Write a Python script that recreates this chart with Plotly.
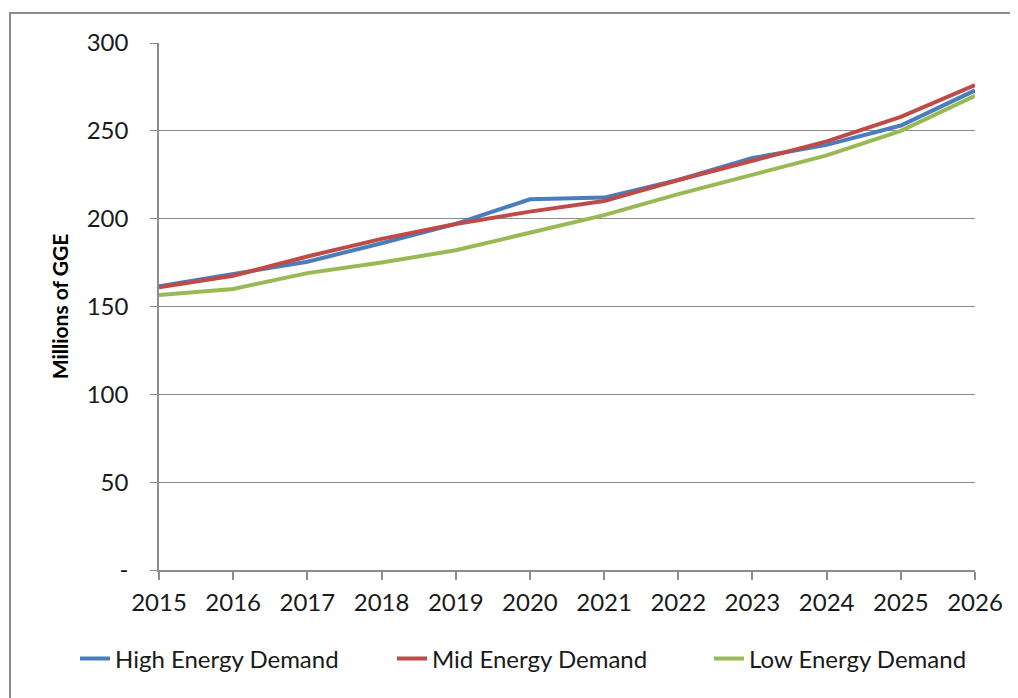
import plotly.graph_objects as go

years = [2015, 2016, 2017, 2018, 2019, 2020, 2021, 2022, 2023, 2024, 2025, 2026]
high_demand = [161.5, 168.5, 175.5, 186, 197, 211, 212, 222, 234.5, 242, 253, 273]
mid_demand = [161, 167.5, 178.5, 188.5, 197, 204, 210, 222, 233, 244, 258, 276]
low_demand = [156.5, 160, 169, 175, 182, 192, 202, 214, 225, 236, 250, 270]

y_ticks = [0, 50, 100, 150, 200, 250, 300]
y_tick_labels = ["-", "50", "100", "150", "200", "250", "300"]

font_name = "Lato, Open Sans, sans-serif"
line_w = 4

fig = go.Figure()
fig.add_trace(go.Scatter(x=years, y=high_demand, name="High Energy Demand", mode="lines",
                         line=dict(color="#4a7ebb", width=line_w)))
fig.add_trace(go.Scatter(x=years, y=mid_demand, name="Mid Energy Demand", mode="lines",
                         line=dict(color="#be4b48", width=line_w)))
fig.add_trace(go.Scatter(x=years, y=low_demand, name="Low Energy Demand", mode="lines",
                         line=dict(color="#98b954", width=line_w)))

# outer chart frame (open on the right / bottom like the source image)
fig.add_shape(type="rect", xref="paper", yref="paper",
              x0=-0.1826, x1=1.08, y0=-0.3, y1=1.057,
              line=dict(color="#8c8c8c", width=2), layer="below")

# page body has an 8px margin, so shift plot area accordingly
fig.update_layout(
    width=1018, height=698,
    margin=dict(l=151, r=51, t=35, b=136),
    paper_bgcolor="white", plot_bgcolor="white",
    font=dict(family=font_name, size=24, color="#1a1a1a"),
    showlegend=True,
    legend=dict(orientation="h", x=-0.083, xanchor="left", y=-0.126, yanchor="top",
                font=dict(size=24), tracegroupgap=0,
                entrywidth=272, entrywidthmode="pixels"),
)

fig.update_xaxes(
    range=[2015, 2026], tickmode="array", tickvals=years,
    showgrid=False, showline=True, linecolor="#8c8c8c", linewidth=1.5,
    ticks="outside", ticklen=8, tickcolor="#8c8c8c", tickwidth=1.5,
    ticklabelstandoff=2, zeroline=False, tickfont=dict(size=24),
)
fig.update_yaxes(
    range=[0, 300], tickmode="array", tickvals=y_ticks, ticktext=y_tick_labels,
    showgrid=True, gridcolor="#8c8c8c", gridwidth=1.2,
    showline=True, linecolor="#8c8c8c", linewidth=1.5,
    ticks="outside", ticklen=7, tickcolor="#8c8c8c", tickwidth=1.2,
    ticklabelstandoff=17, zeroline=False, tickfont=dict(size=24),
    title=dict(text="<b>Millions of GGE</b>", font=dict(size=21, color="#000000"), standoff=12),
)

fig.write_html("out.html")
